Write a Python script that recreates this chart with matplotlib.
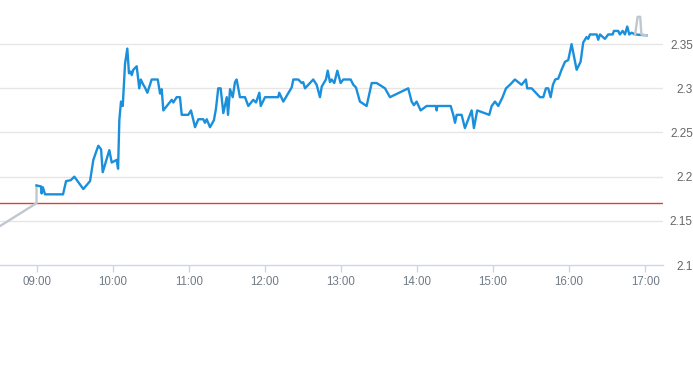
import matplotlib
matplotlib.use('Agg')
import matplotlib.pyplot as plt

# minutes after 09:00 and price for the main (blue) session
session_min = [0, 3.5, 4, 5, 6.7, 20.9, 23.3, 27, 29.8, 36.9, 42.2, 44.8, 48.7, 50.9, 52.2,
               57.4, 59.3, 63.2, 64.3, 65.3, 66.6, 68, 69.8, 71.6, 72.9, 74.3, 75.1, 76.3, 79,
               81, 82.2, 84.2, 85.5, 87.4, 90.8, 95.6, 97.4, 98.7, 100, 106.6, 107.9, 110.5,
               113.1, 114.5, 119.7, 121.8, 125, 127.6, 131.5, 132.8, 134.2, 136.8, 139.9, 141.5,
               143.3, 145.2, 147.3, 150, 151, 152.6, 154.7, 156.5, 157.8, 160.4, 164.4, 167,
               170.9, 173.1, 175.7, 176.8, 180.2, 190.6, 191.4, 194.6, 201.2, 202.5, 206.4,
               209.1, 210.3, 211.7, 214.3, 218.2, 220.9, 223.5, 224.9, 228.2, 229.6, 231.4,
               232.7, 234.8, 237.2, 239.8, 241.9, 247.7, 249.8, 251.9, 255, 260.3, 264.3, 268.2,
               274.8, 278.7, 293.1, 295.8, 297.6, 299.7, 302.9, 307.6, 315, 315.5, 316, 326.6,
               328.6, 330, 331.3, 335.2, 337.8, 343.1, 344.9, 347.5, 357, 358.9, 361.5, 364.1,
               367.5, 370.2, 373.3, 377.2, 382.5, 385.9, 386.9, 390.4, 397, 399.6, 401.7, 403.5,
               405.4, 407.2, 409, 411.4, 414, 416.7, 419.3, 421.9, 425.9, 429, 431.1, 433.7, 435,
               436.4, 441.7, 442.9, 444.3, 448.2, 450.8, 454.3, 455.3, 458.7, 460, 462.2, 464,
               465.8, 467.4, 469.3, 471.9, 481.1]
session_px = [2.19, 2.189, 2.181, 2.188, 2.18, 2.18, 2.195, 2.196, 2.20, 2.186, 2.195, 2.219,
              2.235, 2.231, 2.205, 2.23, 2.216, 2.219, 2.209, 2.264, 2.285, 2.28, 2.328, 2.345,
              2.317, 2.319, 2.315, 2.321, 2.325, 2.30, 2.31, 2.304, 2.301, 2.295, 2.31, 2.31,
              2.294, 2.299, 2.275, 2.287, 2.284, 2.29, 2.29, 2.27, 2.27, 2.275, 2.256, 2.265,
              2.265, 2.261, 2.265, 2.256, 2.264, 2.277, 2.30, 2.30, 2.272, 2.29, 2.27, 2.299,
              2.29, 2.307, 2.31, 2.29, 2.29, 2.28, 2.287, 2.284, 2.295, 2.28, 2.29, 2.29, 2.295,
              2.285, 2.301, 2.31, 2.31, 2.306, 2.307, 2.30, 2.304, 2.31, 2.304, 2.29, 2.302,
              2.31, 2.32, 2.307, 2.31, 2.306, 2.32, 2.306, 2.31, 2.31, 2.304, 2.301, 2.285, 2.28,
              2.306, 2.306, 2.30, 2.29, 2.30, 2.285, 2.281, 2.285, 2.275, 2.28, 2.28, 2.275,
              2.28, 2.28, 2.27, 2.261, 2.27, 2.27, 2.255, 2.275, 2.255, 2.275, 2.27, 2.28, 2.285,
              2.28, 2.29, 2.30, 2.304, 2.31, 2.304, 2.31, 2.30, 2.30, 2.29, 2.29, 2.30, 2.30,
              2.29, 2.304, 2.31, 2.311, 2.321, 2.33, 2.332, 2.35, 2.321, 2.33, 2.352, 2.358,
              2.356, 2.361, 2.361, 2.355, 2.361, 2.356, 2.361, 2.361, 2.365, 2.365, 2.361, 2.365,
              2.361, 2.37, 2.361, 2.363, 2.361, 2.36]

# grey extended-hours pieces
pre_min = [-30, 0, 0]
pre_px = [2.143, 2.17, 2.19]
post_min = [472, 474, 476, 477, 481.1]
post_px = [2.361, 2.381, 2.381, 2.361, 2.36]

prev_close = 2.17

hour_ticks = [0, 60, 120, 180, 240, 300, 360, 420, 480]
hour_labels = ['09:00', '10:00', '11:00', '12:00', '13:00', '14:00', '15:00', '16:00', '17:00']
price_ticks = [2.1, 2.15, 2.2, 2.25, 2.3, 2.35]
price_labels = ['2.1', '2.15', '2.2', '2.25', '2.3', '2.35']

plt.rcParams['font.family'] = ['Liberation Sans', 'DejaVu Sans']

fig = plt.figure(figsize=(6.93, 3.65), dpi=100)
ax = fig.add_axes([0, 100 / 365, 663 / 693, 265 / 365])

ax.plot(pre_min, pre_px, color='#bfc7d0', lw=1.7, zorder=3, solid_joinstyle='round')
ax.plot(session_min, session_px, color='#1a8fdc', lw=1.7, zorder=4, solid_joinstyle='round')
ax.plot(post_min, post_px, color='#bfc7d0', lw=1.7, zorder=5, solid_joinstyle='round')
ax.axhline(prev_close, color='#d9413a', lw=1, zorder=2)

ax.set_xlim(-28.8, 494)
ax.set_ylim(2.1, 2.4)

for v in price_ticks[1:]:
    ax.axhline(v, color='#e6e6e6', lw=1, zorder=1)

for s in ['top', 'left', 'right']:
    ax.spines[s].set_visible(False)
ax.spines['bottom'].set_color('#ccd6eb')
ax.spines['bottom'].set_linewidth(1)

ax.set_xticks(hour_ticks)
ax.set_xticklabels(hour_labels)
ax.tick_params(axis='x', length=5, width=1, color='#ccd6eb', labelcolor='#707a85',
               labelsize=8.3, pad=3)

ax.yaxis.tick_right()
ax.set_yticks(price_ticks)
ax.set_yticklabels(price_labels)
ax.tick_params(axis='y', length=0, labelcolor='#666666', labelsize=8.5, pad=21.5)
for lab in ax.get_yticklabels():
    lab.set_horizontalalignment('right')

fig.savefig('out.png', dpi=100)
